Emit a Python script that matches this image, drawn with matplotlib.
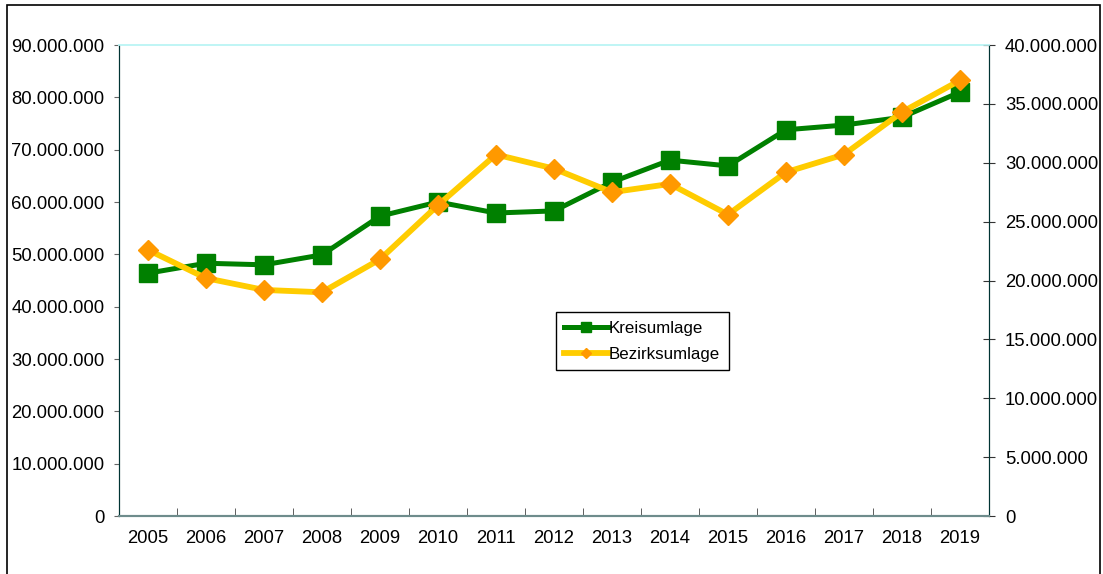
import matplotlib.pyplot as plt
from matplotlib.patches import Rectangle
from matplotlib.ticker import FuncFormatter, FixedLocator

plt.rcParams['font.family'] = ['Liberation Sans', 'DejaVu Sans']

years = ['2005', '2006', '2007', '2008', '2009', '2010', '2011', '2012',
         '2013', '2014', '2015', '2016', '2017', '2018', '2019']

# left axis
kreisumlage = [46.4e6, 48.3e6, 48.0e6, 49.9e6, 57.3e6, 60.0e6, 57.9e6, 58.3e6,
               63.8e6, 68.0e6, 66.9e6, 73.8e6, 74.7e6, 76.2e6, 81.0e6]
# right axis
bezirksumlage = [22.6e6, 20.2e6, 19.2e6, 19.0e6, 21.8e6, 26.4e6, 30.7e6, 29.5e6,
                 27.5e6, 28.2e6, 25.6e6, 29.2e6, 30.7e6, 34.3e6, 37.0e6]


def dotted(v, pos):
    return f'{int(round(v)):,}'.replace(',', '.')


fig = plt.figure(figsize=(11.03, 5.74), dpi=100)
ax = fig.add_axes([0.1079, 0.101, 0.7887, 0.8206])
ax2 = ax.twinx()

x = range(len(years))
l1, = ax.plot(x, kreisumlage, color='#008000', linewidth=3.6, marker='s',
              markersize=12.5, label='Kreisumlage', zorder=3)
l2, = ax2.plot(x, bezirksumlage, color='#FFCC00', linewidth=4.2, marker='D',
               markersize=10, markerfacecolor='#FF9900', markeredgecolor='#FF9900',
               label='Bezirksumlage', zorder=3)

ax.set_xlim(-0.5, len(years) - 0.5)
ax.set_ylim(0, 90e6)
ax2.set_ylim(0, 40e6)
ax.set_yticks(range(0, 90000001, 10000000))
ax2.set_yticks(range(0, 40000001, 5000000))
ax.yaxis.set_major_formatter(FuncFormatter(dotted))
ax2.yaxis.set_major_formatter(FuncFormatter(dotted))

ax.set_xticks(list(x))
ax.set_xticklabels(years)
ax.xaxis.set_minor_locator(FixedLocator([i - 0.5 for i in range(len(years) + 1)]))
ax.tick_params(axis='x', which='major', length=0, pad=10, labelsize=13.3)
ax.tick_params(axis='x', which='minor', direction='in', length=6, color='#444444')
ax.tick_params(axis='y', direction='out', length=3.6, color='#666666',
               labelsize=13.3, pad=7)
ax2.tick_params(axis='y', direction='inout', length=9, color='#333333',
                labelsize=13.3, pad=7)

for a in (ax, ax2):
    a.spines['top'].set_color('#bff5f5')
    a.spines['top'].set_linewidth(1.2)
    a.spines['left'].set_color('#003333')
    a.spines['right'].set_color('#003333')
    a.spines['bottom'].set_color('#6e8c8c')
    a.spines['bottom'].set_linewidth(1.5)

leg = ax.legend(handles=[l1, l2], loc='upper left',
                bbox_to_anchor=(0.502, 0.433), borderaxespad=0, fontsize=12.2,
                frameon=True, fancybox=False, edgecolor='black', framealpha=1,
                handlelength=2.6, handletextpad=0.05, borderpad=0.5,
                labelspacing=0.65, markerscale=0.55)
leg.get_frame().set_linewidth(1.0)
leg.set_zorder(5)

# outer chart frame
fig.patches.append(Rectangle((0.0063, -0.01), 0.9909, 1.0013, transform=fig.transFigure,
                             fill=False, edgecolor='black', linewidth=1.2))

fig.savefig('out.png', dpi=100)
